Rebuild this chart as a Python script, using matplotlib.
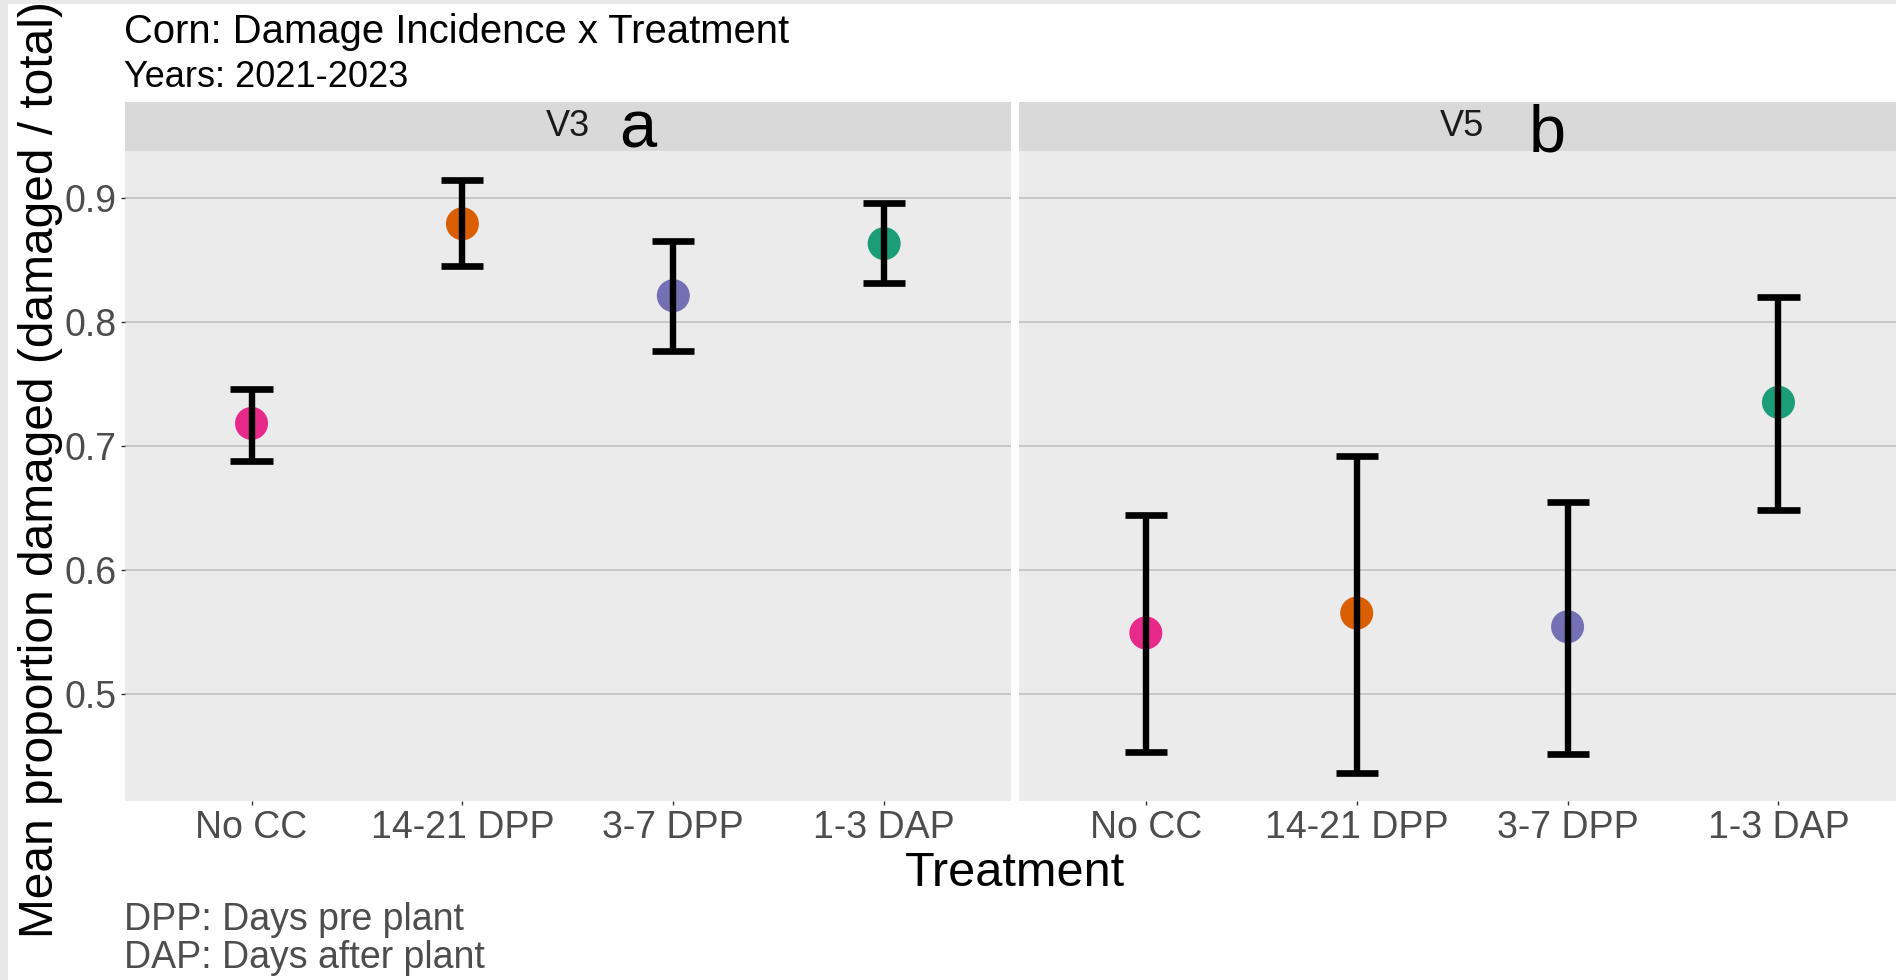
import matplotlib
matplotlib.use("Agg")
import matplotlib.pyplot as plt
from matplotlib.patches import Rectangle

# ---- data ----
treatments = ["No CC", "14-21 DPP", "3-7 DPP", "1-3 DAP"]
colors = ["#E7298A", "#D95F02", "#7570B3", "#1B9E77"]
stages = ["V3", "V5"]
stage_letters = ["a", "b"]
v3_mean = [0.718, 0.879, 0.821, 0.863]
v3_lower = [0.688, 0.845, 0.776, 0.831]
v3_upper = [0.746, 0.914, 0.865, 0.896]
v5_mean = [0.549, 0.565, 0.554, 0.735]
v5_lower = [0.453, 0.436, 0.451, 0.648]
v5_upper = [0.644, 0.692, 0.655, 0.820]
y_ticks = [0.5, 0.6, 0.7, 0.8, 0.9]
y_tick_labels = ["0.5", "0.6", "0.7", "0.8", "0.9"]

plt.rcParams['font.family'] = ['Liberation Sans', 'DejaVu Sans']

W, H = 1896, 980
fig = plt.figure(figsize=(W / 100, H / 100), dpi=100)
fig.patch.set_facecolor("white")


def fx(px):
    return px / W


def fy(py):
    return 1 - py / H


# grey screenshot border (top and left)
fig.patches.append(Rectangle((0, fy(4)), 1, 4 / H, transform=fig.transFigure,
                             facecolor="#E8E8E8", edgecolor="none", zorder=0))
fig.patches.append(Rectangle((0, 0), fx(8), 1, transform=fig.transFigure,
                             facecolor="#E8E8E8", edgecolor="none", zorder=0))

panel_lefts = [125.0, 1019.3]
panel_w = 885.7
panel_top, panel_bot = 151.0, 800.7
strip_top = 101.7
ylim = (0.4137, 0.9377)

means = [v3_mean, v5_mean]
lowers = [v3_lower, v5_lower]
uppers = [v3_upper, v5_upper]
letter_pos = [(638, 148, "center"), (1529, 151, "left")]

xs = list(range(1, len(treatments) + 1))
for i, stage in enumerate(stages):
    left = panel_lefts[i]
    ax = fig.add_axes([fx(left), fy(panel_bot), panel_w / W, (panel_bot - panel_top) / H])
    ax.set_facecolor("#EBEBEB")
    for s in ax.spines.values():
        s.set_visible(False)
    ax.set_xlim(0.4, 4.6)
    ax.set_ylim(*ylim)
    ax.set_yticks(y_ticks)
    ax.yaxis.grid(True, color="#BEBEBE", lw=1.1)
    ax.xaxis.grid(False)
    ax.set_axisbelow(True)
    ax.set_xticks(xs)
    ax.set_xticklabels(treatments)
    ax.tick_params(axis="x", length=3.2, width=1.0, color="#333333",
                   labelsize=27, labelcolor="#4D4D4D", pad=3.5)
    if i == 0:
        ax.set_yticklabels(y_tick_labels)
        ax.tick_params(axis="y", length=3.0, width=1.0, color="#333333",
                       labelsize=27, labelcolor="#4D4D4D", pad=3)
    else:
        ax.tick_params(axis="y", length=0, labelleft=False)

    ax.scatter(xs, means[i], s=(33 * 0.72) ** 2, c=colors, linewidths=0, zorder=3)
    ax.vlines(xs, lowers[i], uppers[i], color="black", lw=4.6, zorder=4, capstyle="butt")
    ax.hlines(lowers[i], [x - 0.1 for x in xs], [x + 0.1 for x in xs], color="black",
              lw=4.8, zorder=4, capstyle="butt")
    ax.hlines(uppers[i], [x - 0.1 for x in xs], [x + 0.1 for x in xs], color="black",
              lw=4.8, zorder=4, capstyle="butt")

    # strip
    sax = fig.add_axes([fx(left), fy(panel_top), panel_w / W, (panel_top - strip_top) / H])
    sax.set_facecolor("#D9D9D9")
    for s in sax.spines.values():
        s.set_visible(False)
    sax.set_xticks([])
    sax.set_yticks([])
    sax.text(0.5, 0.5, stage, ha="center", va="center", fontsize=26, color="#1A1A1A",
             transform=sax.transAxes)

    lx, ly, lha = letter_pos[i]
    fig.text(fx(lx), fy(ly), stage_letters[i], ha=lha, va="baseline", fontsize=48,
             color="black", zorder=10)

# titles
fig.text(fx(124), fy(43.3), "Corn: Damage Incidence x Treatment", ha="left",
         va="baseline", fontsize=28.8, color="black")
fig.text(fx(124), fy(87.3), "Years: 2021-2023", ha="left", va="baseline",
         fontsize=26, color="black")

# axis labels
fig.text(fx(1015), fy(886), "Treatment", ha="center", va="baseline", fontsize=35,
         color="black")
fig.text(fx(53), fy(470), "Mean proportion damaged (damaged / total)", rotation=90,
         rotation_mode="anchor", ha="center", va="baseline", fontsize=34.5, color="black")

# caption
fig.text(fx(124.5), fy(930), "DPP: Days pre plant", ha="left", va="baseline",
         fontsize=27, color="#4D4D4D")
fig.text(fx(124.5), fy(968), "DAP: Days after plant", ha="left", va="baseline",
         fontsize=27, color="#4D4D4D")

fig.savefig("out.png", dpi=100)
